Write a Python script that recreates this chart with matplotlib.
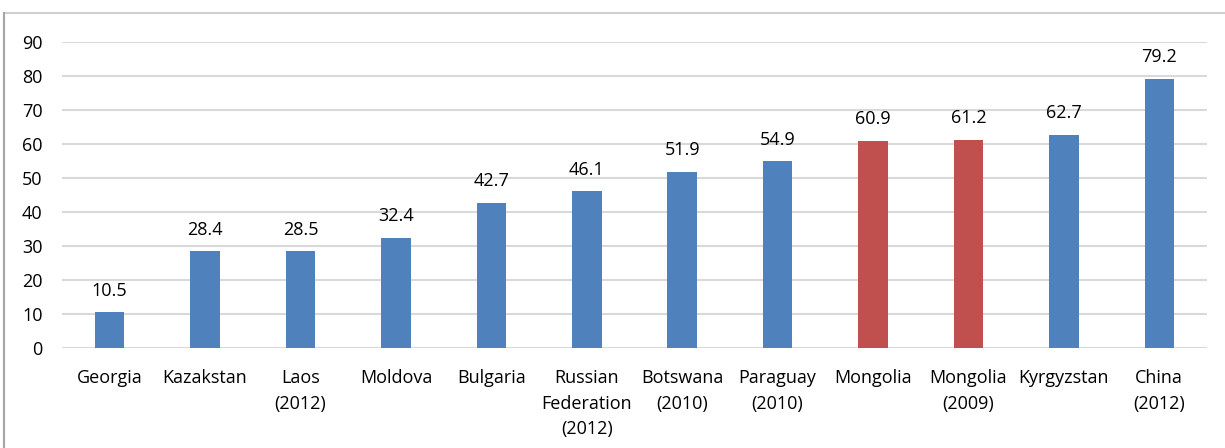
import matplotlib
matplotlib.use("Agg")
import matplotlib.pyplot as plt
from matplotlib.patches import Rectangle

# Series values and category labels
countries = ["Georgia", "Kazakstan", "Laos\n(2012)", "Moldova", "Bulgaria",
             "Russian\nFederation\n(2012)", "Botswana\n(2010)", "Paraguay\n(2010)",
             "Mongolia", "Mongolia\n(2009)", "Kyrgyzstan", "China\n(2012)"]
values = [10.5, 28.4, 28.5, 32.4, 42.7, 46.1, 51.9, 54.9, 60.9, 61.2, 62.7, 79.2]
highlight = [False] * 8 + [True, True] + [False, False]
yticks = [0, 10, 20, 30, 40, 50, 60, 70, 80, 90]

BLUE = "#4F81BD"
RED = "#C0504D"
FS = 13

plt.rcParams["font.family"] = ["Open Sans", "DejaVu Sans"]

fig = plt.figure(figsize=(12.25, 4.48), dpi=100)
ax = fig.add_axes([62 / 1225, 1 - 348 / 448, (1207 - 62) / 1225, (348 - 42) / 448])

x = range(len(values))
colors = [RED if h else BLUE for h in highlight]
bars = ax.bar(x, values, width=0.31, color=colors, zorder=3)

for b, v in zip(bars, values):
    ax.annotate(f"{v:.1f}", (b.get_x() + b.get_width() / 2, v),
                xytext=(0, 9), textcoords="offset points",
                ha="center", va="bottom", fontsize=FS, color="#000000")

ax.set_xlim(-0.5, len(values) - 0.5)
ax.set_ylim(0, 90)
ax.set_yticks(yticks)
ax.set_xticks(list(x))
ax.set_xticklabels(countries, fontsize=FS, linespacing=1.55)
ax.tick_params(axis="y", labelsize=FS, length=0, pad=14)
ax.tick_params(axis="x", length=0, pad=15)
ax.grid(axis="y", color="#D9D9D9", lw=1.5, zorder=0)
for s in ax.spines.values():
    s.set_visible(False)

# chart frame
fig.patches.append(Rectangle((4 / 1225, -0.1), 1.2, 1 - 13 / 448 + 0.1,
                             transform=fig.transFigure, fill=False,
                             edgecolor="#D0D0D0", lw=1.5))
fig.add_artist(plt.Line2D([4 / 1225, 4 / 1225], [0, 1 - 13 / 448],
                          transform=fig.transFigure, color="#A6A6A6", lw=1.5))

fig.savefig("out.png", dpi=100)
